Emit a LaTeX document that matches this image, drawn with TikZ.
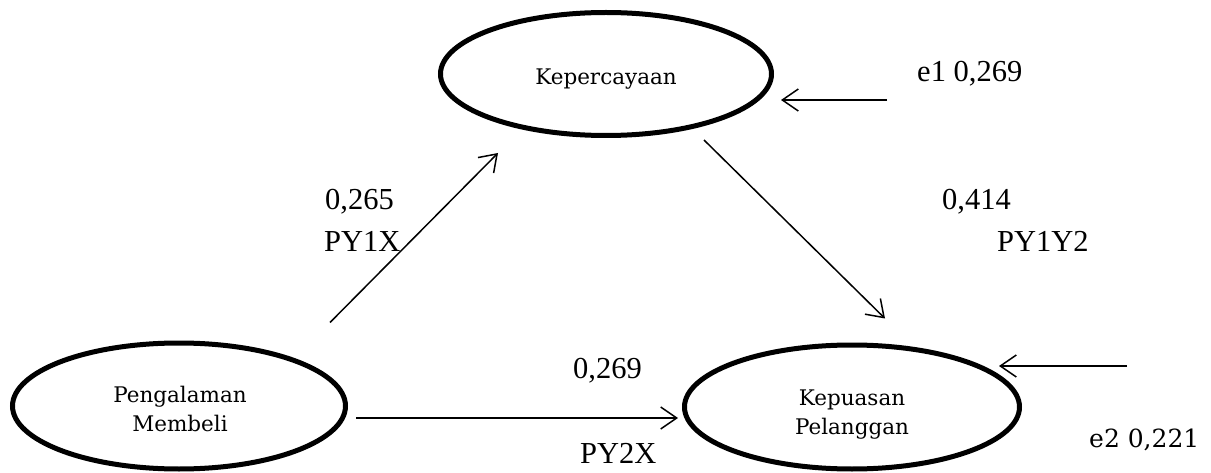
\documentclass[tikz,border=0pt]{standalone}
\usepackage{fontspec}
\newfontfamily\timesfont{Liberation Serif}
\newfontfamily\nodefont{DejaVu Serif}
\usetikzlibrary{shapes.geometric,arrows.meta,calc}
\tikzset{
  latent/.style={ellipse, draw, line width=5pt, inner sep=0pt},
  nodetext/.style={anchor=base, inner sep=0pt, font=\nodefont\fontsize{21.5}{29}\selectfont},
  pathlabel/.style={anchor=base west, inner sep=0pt, font=\timesfont\fontsize{30.5}{36}\selectfont},
  errlabel/.style={anchor=base west, inner sep=0pt, font=\nodefont\fontsize{25}{30}\selectfont},
  conn/.style={line width=1.5pt, -{Straight Barb[length=16pt,width=22pt,line width=1.5pt]}}
}
\begin{document}
\begin{tikzpicture}[x=1pt,y=-1pt]
\useasboundingbox (0,0) rectangle (1211,473);
% latent variables
\node[latent, minimum width=331pt, minimum height=123pt] (K1) at (606,74) {};
\node[latent, minimum width=333pt, minimum height=126pt] (P) at (179,406) {};
\node[latent, minimum width=335pt, minimum height=124pt] (KP) at (852,407) {};
% texts inside the ellipses
\node[nodetext] (K1a) at ($(K1.center)+(0,11)$) {Kepercayaan};
\node[nodetext] (Pa) at ($(P.center)+(1,-4)$) {Pengalaman};
\node[nodetext] (Pb) at ($(P.center)+(1,25)$) {Membeli};
\node[nodetext] (KPa) at ($(KP.center)+(0,-2)$) {Kepuasan};
\node[nodetext] (KPb) at ($(KP.center)+(0,27)$) {Pelanggan};
% error sources
\coordinate (e1s) at (887,100);
\coordinate (e2s) at (1127,366);
% labels
\node[pathlabel] (l1) at (325,210) {0,265};
\node[pathlabel] (l2) at (324,252) {PY1X};
\node[pathlabel] (l3) at (942,210) {0,414};
\node[pathlabel] (l4) at (997,252) {PY1Y2};
\node[pathlabel] (l5) at (573,378) {0,269};
\node[pathlabel] (l6) at (580,463) {PY2X};
\node[pathlabel] (l7) at (917,82) {e1 0,269};
\node[errlabel] (l8) at (1089,447) {e2 0,221};
% connectors
\draw[conn] ($(P.north)+(151,-18)$) -- ($(K1.south)+(-108,15)$);
\draw[conn] ($(K1.south)+(98,2)$) -- ($(KP.north)+(33,-24)$);
\draw[conn] ($(P.east)+(8,12)$) -- ($(KP.west)+(-4,11)$);
\draw[conn] (e1s) -- ($(K1.east)+(7,26)$);
\draw[conn] (e2s) -- ($(KP.center)+(147,-41)$);
\end{tikzpicture}
\end{document}
